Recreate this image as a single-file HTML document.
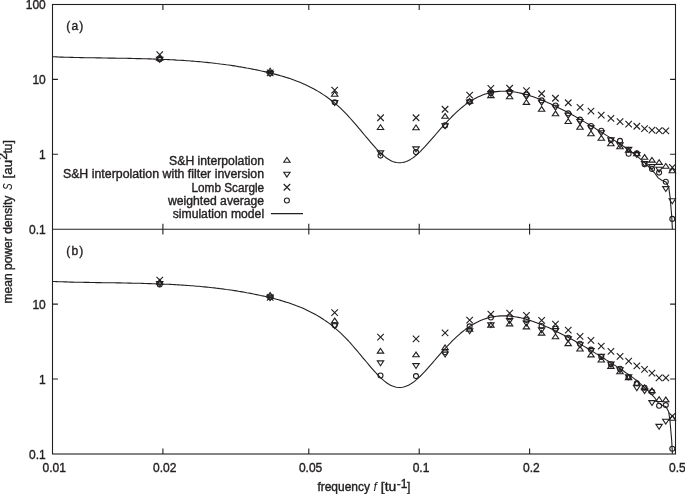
<!DOCTYPE html>
<html><head><meta charset="utf-8"><title>Mean power density</title>
<style>html,body{margin:0;padding:0;background:#fff}svg{display:block}text{font-family:"Liberation Sans","DejaVu Sans",sans-serif;font-size:12px;fill:#231f20;stroke:#231f20;stroke-width:0.38px}.it{font-style:italic;stroke-width:0.05px}</style></head><body>
<svg width="685" height="494" viewBox="0 0 685 494">
<rect width="685" height="494" fill="#fff"/>
<g fill="none" stroke="#231f20" stroke-width="1.1">
<rect x="52.5" y="4.5" width="623.0" height="449.5"/>
<path d="M52.5,229.2H675.5"/>
<path d="M162.9,4.5v5.4M162.9,223.8v10.8M162.9,454.0v-5.4M308.8,4.5v5.4M308.8,223.8v10.8M308.8,454.0v-5.4M419.2,4.5v5.4M419.2,223.8v10.8M419.2,454.0v-5.4M529.6,4.5v5.4M529.6,223.8v10.8M529.6,454.0v-5.4M52.5,79.4h5.4M675.5,79.4h-5.4M52.5,154.3h5.4M675.5,154.3h-5.4M52.5,304.1h5.4M675.5,304.1h-5.4M52.5,379.0h5.4M675.5,379.0h-5.4"/>
<path d="M52.5,56.8 L54.5,56.8 L56.5,56.9 L58.5,57.0 L60.5,57.1 L62.5,57.1 L64.5,57.2 L66.5,57.2 L68.5,57.3 L70.5,57.4 L72.5,57.4 L74.5,57.5 L76.5,57.5 L78.5,57.5 L80.5,57.6 L82.5,57.6 L84.5,57.7 L86.5,57.7 L88.5,57.7 L90.5,57.8 L92.5,57.8 L94.5,57.8 L96.5,57.9 L98.5,57.9 L100.5,57.9 L102.5,58.0 L104.5,58.0 L106.5,58.0 L108.5,58.1 L110.5,58.1 L112.5,58.1 L114.5,58.1 L116.5,58.2 L118.5,58.2 L120.5,58.2 L122.5,58.3 L124.5,58.3 L126.5,58.3 L128.5,58.4 L130.5,58.4 L132.5,58.5 L134.5,58.5 L136.5,58.6 L138.5,58.6 L140.5,58.6 L142.5,58.7 L144.5,58.8 L146.5,58.8 L148.5,58.9 L150.5,58.9 L152.5,59.0 L154.5,59.1 L156.5,59.1 L158.5,59.2 L160.5,59.3 L162.5,59.4 L164.5,59.5 L166.5,59.5 L168.5,59.6 L170.5,59.7 L172.5,59.8 L174.5,59.9 L176.5,60.1 L178.5,60.2 L180.5,60.3 L182.5,60.4 L184.5,60.5 L186.5,60.7 L188.5,60.8 L190.5,61.0 L192.5,61.1 L194.5,61.3 L196.5,61.5 L198.5,61.6 L200.5,61.8 L202.5,62.0 L204.5,62.2 L206.5,62.4 L208.5,62.6 L210.5,62.8 L212.5,63.0 L214.5,63.2 L216.5,63.5 L218.5,63.7 L220.5,64.0 L222.5,64.2 L224.5,64.5 L226.5,64.8 L228.5,65.0 L230.5,65.3 L232.5,65.6 L234.5,65.9 L236.5,66.2 L238.5,66.6 L240.5,66.9 L242.5,67.2 L244.5,67.6 L246.5,68.0 L248.5,68.3 L250.5,68.7 L252.5,69.1 L254.5,69.5 L256.5,69.9 L258.5,70.3 L260.5,70.8 L262.5,71.2 L264.5,71.6 L266.5,72.1 L268.5,72.6 L270.5,73.1 L272.5,73.6 L274.5,74.1 L276.5,74.6 L278.5,75.1 L280.5,75.7 L282.5,76.3 L284.5,76.9 L286.5,77.5 L288.5,78.1 L290.5,78.8 L292.5,79.5 L294.5,80.2 L296.5,81.0 L298.5,81.7 L300.5,82.6 L302.5,83.4 L304.5,84.3 L306.5,85.2 L308.5,86.2 L310.5,87.2 L312.5,88.2 L314.5,89.3 L316.5,90.4 L318.5,91.6 L320.5,92.8 L322.5,94.1 L324.5,95.4 L326.5,96.8 L328.5,98.2 L330.5,99.7 L332.5,101.3 L334.5,102.9 L336.5,104.6 L338.5,106.4 L340.5,108.2 L342.5,110.1 L344.5,112.1 L346.5,114.2 L348.5,116.3 L350.5,118.5 L352.5,120.8 L354.5,123.1 L356.5,125.4 L358.5,127.8 L360.5,130.2 L362.5,132.6 L364.5,135.0 L366.5,137.3 L368.5,139.7 L370.5,142.1 L372.5,144.4 L374.5,146.6 L376.5,148.8 L378.5,150.9 L380.5,152.9 L382.5,154.7 L384.5,156.4 L386.5,158.0 L388.5,159.3 L390.5,160.5 L392.5,161.4 L394.5,162.1 L396.5,162.5 L398.5,162.8 L400.5,162.8 L402.5,162.5 L404.5,162.1 L406.5,161.4 L408.5,160.5 L410.5,159.4 L412.5,158.1 L414.5,156.7 L416.5,155.0 L418.5,153.2 L420.5,151.3 L422.5,149.2 L424.5,147.1 L426.5,144.9 L428.5,142.6 L430.5,140.4 L432.5,138.1 L434.5,135.8 L436.5,133.5 L438.5,131.2 L440.5,128.9 L442.5,126.7 L444.5,124.5 L446.5,122.3 L448.5,120.1 L450.5,118.1 L452.5,116.0 L454.5,114.1 L456.5,112.2 L458.5,110.4 L460.5,108.6 L462.5,107.0 L464.5,105.4 L466.5,103.9 L468.5,102.5 L470.5,101.2 L472.5,100.0 L474.5,98.8 L476.5,97.7 L478.5,96.8 L480.5,95.9 L482.5,95.1 L484.5,94.3 L486.5,93.7 L488.5,93.1 L490.5,92.6 L492.5,92.2 L494.5,91.9 L496.5,91.6 L498.5,91.4 L500.5,91.2 L502.5,91.2 L504.5,91.2 L506.5,91.2 L508.5,91.3 L510.5,91.5 L512.5,91.7 L514.5,92.0 L516.5,92.3 L518.5,92.7 L520.5,93.1 L522.5,93.6 L524.5,94.1 L526.5,94.7 L528.5,95.3 L530.5,95.9 L532.5,96.6 L534.5,97.3 L536.5,98.0 L538.5,98.8 L540.5,99.6 L542.5,100.4 L544.5,101.2 L546.5,102.1 L548.5,102.9 L550.5,103.8 L552.5,104.8 L554.5,105.7 L556.5,106.7 L558.5,107.7 L560.5,108.7 L562.5,109.7 L564.5,110.7 L566.5,111.8 L568.5,112.8 L570.5,113.9 L572.5,115.0 L574.5,116.1 L576.5,117.3 L578.5,118.4 L580.5,119.6 L582.5,120.7 L584.5,121.9 L586.5,123.1 L588.5,124.3 L590.5,125.5 L592.5,126.7 L594.5,127.9 L596.5,129.2 L598.5,130.4 L600.5,131.6 L602.5,132.9 L604.5,134.1 L606.5,135.4 L608.5,136.6 L610.5,137.9 L612.5,139.2 L614.5,140.4 L616.5,141.7 L618.5,143.0 L620.5,144.3 L622.5,145.6 L624.5,147.0 L626.5,148.4 L628.5,149.8 L630.5,151.2 L632.5,152.7 L634.5,154.2 L636.5,155.8 L638.5,157.4 L640.5,159.1 L642.5,160.9 L644.5,162.7 L646.5,164.5 L648.5,166.5 L650.5,168.5 L652.5,170.6 L654.5,172.8 L658.2,177.9 L662.1,180.5 L666.0,182.1 L668.7,187.1 L670.0,196.3 L670.9,206.8 L671.7,216.0 L672.4,229.2" stroke-linejoin="round"/>
<path d="M52.5,281.5 L54.5,281.5 L56.5,281.6 L58.5,281.7 L60.5,281.8 L62.5,281.8 L64.5,281.9 L66.5,281.9 L68.5,282.0 L70.5,282.1 L72.5,282.1 L74.5,282.2 L76.5,282.2 L78.5,282.2 L80.5,282.3 L82.5,282.3 L84.5,282.4 L86.5,282.4 L88.5,282.4 L90.5,282.5 L92.5,282.5 L94.5,282.5 L96.5,282.6 L98.5,282.6 L100.5,282.6 L102.5,282.7 L104.5,282.7 L106.5,282.7 L108.5,282.8 L110.5,282.8 L112.5,282.8 L114.5,282.8 L116.5,282.9 L118.5,282.9 L120.5,282.9 L122.5,283.0 L124.5,283.0 L126.5,283.0 L128.5,283.1 L130.5,283.1 L132.5,283.2 L134.5,283.2 L136.5,283.3 L138.5,283.3 L140.5,283.3 L142.5,283.4 L144.5,283.5 L146.5,283.5 L148.5,283.6 L150.5,283.6 L152.5,283.7 L154.5,283.8 L156.5,283.8 L158.5,283.9 L160.5,284.0 L162.5,284.1 L164.5,284.2 L166.5,284.2 L168.5,284.3 L170.5,284.4 L172.5,284.5 L174.5,284.6 L176.5,284.8 L178.5,284.9 L180.5,285.0 L182.5,285.1 L184.5,285.2 L186.5,285.4 L188.5,285.5 L190.5,285.7 L192.5,285.8 L194.5,286.0 L196.5,286.2 L198.5,286.3 L200.5,286.5 L202.5,286.7 L204.5,286.9 L206.5,287.1 L208.5,287.3 L210.5,287.5 L212.5,287.7 L214.5,287.9 L216.5,288.2 L218.5,288.4 L220.5,288.7 L222.5,288.9 L224.5,289.2 L226.5,289.5 L228.5,289.7 L230.5,290.0 L232.5,290.3 L234.5,290.6 L236.5,290.9 L238.5,291.3 L240.5,291.6 L242.5,291.9 L244.5,292.3 L246.5,292.7 L248.5,293.0 L250.5,293.4 L252.5,293.8 L254.5,294.2 L256.5,294.6 L258.5,295.0 L260.5,295.5 L262.5,295.9 L264.5,296.3 L266.5,296.8 L268.5,297.3 L270.5,297.8 L272.5,298.3 L274.5,298.8 L276.5,299.3 L278.5,299.8 L280.5,300.4 L282.5,301.0 L284.5,301.6 L286.5,302.2 L288.5,302.8 L290.5,303.5 L292.5,304.2 L294.5,304.9 L296.5,305.7 L298.5,306.4 L300.5,307.3 L302.5,308.1 L304.5,309.0 L306.5,309.9 L308.5,310.9 L310.5,311.9 L312.5,312.9 L314.5,314.0 L316.5,315.1 L318.5,316.3 L320.5,317.5 L322.5,318.8 L324.5,320.1 L326.5,321.5 L328.5,322.9 L330.5,324.4 L332.5,326.0 L334.5,327.6 L336.5,329.3 L338.5,331.1 L340.5,332.9 L342.5,334.8 L344.5,336.8 L346.5,338.9 L348.5,341.0 L350.5,343.2 L352.5,345.5 L354.5,347.8 L356.5,350.1 L358.5,352.5 L360.5,354.9 L362.5,357.3 L364.5,359.7 L366.5,362.0 L368.5,364.4 L370.5,366.8 L372.5,369.1 L374.5,371.3 L376.5,373.5 L378.5,375.6 L380.5,377.6 L382.5,379.4 L384.5,381.1 L386.5,382.7 L388.5,384.0 L390.5,385.2 L392.5,386.1 L394.5,386.8 L396.5,387.2 L398.5,387.5 L400.5,387.5 L402.5,387.2 L404.5,386.8 L406.5,386.1 L408.5,385.2 L410.5,384.1 L412.5,382.8 L414.5,381.4 L416.5,379.7 L418.5,377.9 L420.5,376.0 L422.5,373.9 L424.5,371.8 L426.5,369.6 L428.5,367.3 L430.5,365.1 L432.5,362.8 L434.5,360.5 L436.5,358.2 L438.5,355.9 L440.5,353.6 L442.5,351.4 L444.5,349.2 L446.5,347.0 L448.5,344.8 L450.5,342.8 L452.5,340.7 L454.5,338.8 L456.5,336.9 L458.5,335.1 L460.5,333.3 L462.5,331.7 L464.5,330.1 L466.5,328.6 L468.5,327.2 L470.5,325.9 L472.5,324.7 L474.5,323.5 L476.5,322.4 L478.5,321.5 L480.5,320.6 L482.5,319.8 L484.5,319.0 L486.5,318.4 L488.5,317.8 L490.5,317.3 L492.5,316.9 L494.5,316.6 L496.5,316.3 L498.5,316.1 L500.5,315.9 L502.5,315.9 L504.5,315.9 L506.5,315.9 L508.5,316.0 L510.5,316.2 L512.5,316.4 L514.5,316.7 L516.5,317.0 L518.5,317.4 L520.5,317.8 L522.5,318.3 L524.5,318.8 L526.5,319.4 L528.5,320.0 L530.5,320.6 L532.5,321.3 L534.5,322.0 L536.5,322.7 L538.5,323.5 L540.5,324.3 L542.5,325.1 L544.5,325.9 L546.5,326.8 L548.5,327.6 L550.5,328.5 L552.5,329.5 L554.5,330.4 L556.5,331.4 L558.5,332.4 L560.5,333.4 L562.5,334.4 L564.5,335.4 L566.5,336.5 L568.5,337.5 L570.5,338.6 L572.5,339.7 L574.5,340.8 L576.5,342.0 L578.5,343.1 L580.5,344.3 L582.5,345.4 L584.5,346.6 L586.5,347.8 L588.5,349.0 L590.5,350.2 L592.5,351.4 L594.5,352.6 L596.5,353.9 L598.5,355.1 L600.5,356.3 L602.5,357.6 L604.5,358.8 L606.5,360.1 L608.5,361.3 L610.5,362.6 L612.5,363.9 L614.5,365.1 L616.5,366.4 L618.5,367.7 L620.5,369.0 L622.5,370.3 L624.5,371.7 L626.5,373.1 L628.5,374.5 L630.5,375.9 L632.5,377.4 L634.5,378.9 L636.5,380.5 L638.5,382.1 L640.5,383.8 L642.5,385.6 L644.5,387.4 L646.5,389.2 L648.5,391.2 L650.5,393.2 L652.5,395.3 L654.5,397.5 L658.2,402.6 L662.1,405.2 L666.0,406.8 L668.7,411.8 L670.0,421.0 L670.9,431.5 L671.7,440.7 L672.4,453.9" stroke-linejoin="round"/>
<path d="M159.7,55.6L156.5,60.3L162.9,60.3Z"/>
<path d="M270.1,68.2L266.9,72.9L273.3,72.9Z"/>
<path d="M334.7,91.6L331.5,96.3L337.9,96.3Z"/>
<path d="M380.5,124.8L377.3,129.5L383.7,129.5Z"/>
<path d="M416.0,125.0L412.8,129.7L419.2,129.7Z"/>
<path d="M445.1,113.6L441.9,118.3L448.3,118.3Z"/>
<path d="M469.6,98.5L466.4,103.2L472.8,103.2Z"/>
<path d="M490.9,92.9L487.7,97.6L494.1,97.6Z"/>
<path d="M509.6,94.0L506.4,98.7L512.8,98.7Z"/>
<path d="M526.4,99.7L523.2,104.4L529.6,104.4Z"/>
<path d="M541.6,106.6L538.4,111.3L544.8,111.3Z"/>
<path d="M555.5,111.1L552.3,115.8L558.7,115.8Z"/>
<path d="M568.2,118.8L565.0,123.5L571.4,123.5Z"/>
<path d="M580.0,124.6L576.8,129.3L583.2,129.3Z"/>
<path d="M591.0,131.0L587.8,135.7L594.2,135.7Z"/>
<path d="M601.3,135.5L598.1,140.2L604.5,140.2Z"/>
<path d="M610.9,141.0L607.7,145.7L614.1,145.7Z"/>
<path d="M620.0,144.0L616.8,148.7L623.2,148.7Z"/>
<path d="M628.6,147.6L625.4,152.3L631.8,152.3Z"/>
<path d="M636.8,151.1L633.6,155.8L640.0,155.8Z"/>
<path d="M644.6,154.6L641.4,159.3L647.8,159.3Z"/>
<path d="M652.0,157.4L648.8,162.1L655.2,162.1Z"/>
<path d="M659.1,159.7L655.9,164.4L662.3,164.4Z"/>
<path d="M665.8,163.5L662.6,168.2L669.0,168.2Z"/>
<path d="M672.3,168.1L669.1,172.8L675.5,172.8Z"/>
<path d="M159.7,62.3L156.5,57.4L162.9,57.4Z"/>
<path d="M270.1,76.4L266.9,71.5L273.3,71.5Z"/>
<path d="M334.7,105.5L331.5,100.6L337.9,100.6Z"/>
<path d="M380.5,155.8L377.3,150.9L383.7,150.9Z"/>
<path d="M416.0,151.8L412.8,146.9L419.2,146.9Z"/>
<path d="M445.1,128.8L441.9,123.9L448.3,123.9Z"/>
<path d="M469.6,104.9L466.4,100.0L472.8,100.0Z"/>
<path d="M490.9,96.5L487.7,91.6L494.1,91.6Z"/>
<path d="M509.6,95.5L506.4,90.6L512.8,90.6Z"/>
<path d="M526.4,99.4L523.2,94.5L529.6,94.5Z"/>
<path d="M541.6,105.2L538.4,100.3L544.8,100.3Z"/>
<path d="M555.5,110.2L552.3,105.3L558.7,105.3Z"/>
<path d="M568.2,118.2L565.0,113.3L571.4,113.3Z"/>
<path d="M580.0,124.4L576.8,119.5L583.2,119.5Z"/>
<path d="M591.0,130.8L587.8,125.9L594.2,125.9Z"/>
<path d="M601.3,135.7L598.1,130.8L604.5,130.8Z"/>
<path d="M610.9,142.7L607.7,137.8L614.1,137.8Z"/>
<path d="M620.0,147.7L616.8,142.8L623.2,142.8Z"/>
<path d="M628.6,152.3L625.4,147.4L631.8,147.4Z"/>
<path d="M636.8,157.5L633.6,152.6L640.0,152.6Z"/>
<path d="M644.6,166.5L641.4,161.6L647.8,161.6Z"/>
<path d="M652.0,169.5L648.8,164.6L655.2,164.6Z"/>
<path d="M659.1,172.2L655.9,167.3L662.3,167.3Z"/>
<path d="M665.8,191.5L662.6,186.6L669.0,186.6Z"/>
<path d="M672.3,203.7L669.1,198.8L675.5,198.8Z"/>
<path d="M156.5,51.4l6.5,6.5m-6.5,0l6.5,-6.5"/>
<path d="M266.9,69.7l6.5,6.5m-6.5,0l6.5,-6.5"/>
<path d="M331.4,86.8l6.5,6.5m-6.5,0l6.5,-6.5"/>
<path d="M377.3,114.5l6.5,6.5m-6.5,0l6.5,-6.5"/>
<path d="M412.8,114.5l6.5,6.5m-6.5,0l6.5,-6.5"/>
<path d="M441.8,106.0l6.5,6.5m-6.5,0l6.5,-6.5"/>
<path d="M466.4,91.8l6.5,6.5m-6.5,0l6.5,-6.5"/>
<path d="M487.6,85.2l6.5,6.5m-6.5,0l6.5,-6.5"/>
<path d="M506.4,85.0l6.5,6.5m-6.5,0l6.5,-6.5"/>
<path d="M523.2,87.3l6.5,6.5m-6.5,0l6.5,-6.5"/>
<path d="M538.4,90.5l6.5,6.5m-6.5,0l6.5,-6.5"/>
<path d="M552.2,95.0l6.5,6.5m-6.5,0l6.5,-6.5"/>
<path d="M565.0,99.5l6.5,6.5m-6.5,0l6.5,-6.5"/>
<path d="M576.8,104.2l6.5,6.5m-6.5,0l6.5,-6.5"/>
<path d="M587.7,107.8l6.5,6.5m-6.5,0l6.5,-6.5"/>
<path d="M598.0,111.8l6.5,6.5m-6.5,0l6.5,-6.5"/>
<path d="M607.7,115.2l6.5,6.5m-6.5,0l6.5,-6.5"/>
<path d="M616.8,118.3l6.5,6.5m-6.5,0l6.5,-6.5"/>
<path d="M625.4,120.8l6.5,6.5m-6.5,0l6.5,-6.5"/>
<path d="M633.6,123.0l6.5,6.5m-6.5,0l6.5,-6.5"/>
<path d="M641.3,125.3l6.5,6.5m-6.5,0l6.5,-6.5"/>
<path d="M648.7,126.8l6.5,6.5m-6.5,0l6.5,-6.5"/>
<path d="M655.8,127.4l6.5,6.5m-6.5,0l6.5,-6.5"/>
<path d="M662.6,127.7l6.5,6.5m-6.5,0l6.5,-6.5"/>
<path d="M669.1,164.1l6.5,6.5m-6.5,0l6.5,-6.5"/>
<circle cx="159.7" cy="59.3" r="2.5"/>
<circle cx="270.1" cy="73.1" r="2.5"/>
<circle cx="334.7" cy="102.3" r="2.5"/>
<circle cx="380.5" cy="155.6" r="2.5"/>
<circle cx="416.0" cy="152.1" r="2.5"/>
<circle cx="445.1" cy="125.4" r="2.5"/>
<circle cx="469.6" cy="101.7" r="2.5"/>
<circle cx="490.9" cy="92.8" r="2.5"/>
<circle cx="509.6" cy="92.0" r="2.5"/>
<circle cx="526.4" cy="94.6" r="2.5"/>
<circle cx="541.6" cy="100.4" r="2.5"/>
<circle cx="555.5" cy="105.5" r="2.5"/>
<circle cx="568.2" cy="113.4" r="2.5"/>
<circle cx="580.0" cy="119.6" r="2.5"/>
<circle cx="591.0" cy="126.0" r="2.5"/>
<circle cx="601.3" cy="130.8" r="2.5"/>
<circle cx="610.9" cy="140.0" r="2.5"/>
<circle cx="620.0" cy="140.9" r="2.5"/>
<circle cx="628.6" cy="153.7" r="2.5"/>
<circle cx="636.8" cy="153.4" r="2.5"/>
<circle cx="644.6" cy="164.3" r="2.5"/>
<circle cx="652.0" cy="169.0" r="2.5"/>
<circle cx="659.1" cy="172.6" r="2.5"/>
<circle cx="665.8" cy="181.8" r="2.5"/>
<circle cx="672.3" cy="218.9" r="2.5"/>
<path d="M159.7,279.6L156.5,284.3L162.9,284.3Z"/>
<path d="M270.1,292.6L266.9,297.3L273.3,297.3Z"/>
<path d="M334.7,318.1L331.5,322.8L337.9,322.8Z"/>
<path d="M380.5,348.4L377.3,353.1L383.7,353.1Z"/>
<path d="M416.0,352.1L412.8,356.8L419.2,356.8Z"/>
<path d="M445.1,344.9L441.9,349.6L448.3,349.6Z"/>
<path d="M469.6,326.4L466.4,331.1L472.8,331.1Z"/>
<path d="M490.9,322.6L487.7,327.3L494.1,327.3Z"/>
<path d="M509.6,321.2L506.4,325.9L512.8,325.9Z"/>
<path d="M526.4,324.2L523.2,328.9L529.6,328.9Z"/>
<path d="M541.6,330.4L538.4,335.1L544.8,335.1Z"/>
<path d="M555.5,334.0L552.3,338.7L558.7,338.7Z"/>
<path d="M568.2,340.9L565.0,345.6L571.4,345.6Z"/>
<path d="M580.0,346.3L576.8,351.0L583.2,351.0Z"/>
<path d="M591.0,352.2L587.8,356.9L594.2,356.9Z"/>
<path d="M601.3,357.3L598.1,362.0L604.5,362.0Z"/>
<path d="M610.9,363.7L607.7,368.4L614.1,368.4Z"/>
<path d="M620.0,369.1L616.8,373.8L623.2,373.8Z"/>
<path d="M628.6,374.9L625.4,379.6L631.8,379.6Z"/>
<path d="M636.8,380.6L633.6,385.3L640.0,385.3Z"/>
<path d="M644.6,384.9L641.4,389.6L647.8,389.6Z"/>
<path d="M652.0,387.9L648.8,392.6L655.2,392.6Z"/>
<path d="M659.1,396.8L655.9,401.5L662.3,401.5Z"/>
<path d="M665.8,397.1L662.6,401.8L669.0,401.8Z"/>
<path d="M672.3,415.6L669.1,420.3L675.5,420.3Z"/>
<path d="M159.7,286.5L156.5,281.6L162.9,281.6Z"/>
<path d="M270.1,300.6L266.9,295.7L273.3,295.7Z"/>
<path d="M334.7,328.6L331.5,323.7L337.9,323.7Z"/>
<path d="M380.5,365.8L377.3,360.9L383.7,360.9Z"/>
<path d="M416.0,368.5L412.8,363.6L419.2,363.6Z"/>
<path d="M445.1,357.0L441.9,352.1L448.3,352.1Z"/>
<path d="M469.6,333.7L466.4,328.8L472.8,328.8Z"/>
<path d="M490.9,327.6L487.7,322.7L494.1,322.7Z"/>
<path d="M509.6,323.4L506.4,318.5L512.8,318.5Z"/>
<path d="M526.4,326.0L523.2,321.1L529.6,321.1Z"/>
<path d="M541.6,332.8L538.4,327.9L544.8,327.9Z"/>
<path d="M555.5,333.5L552.3,328.6L558.7,328.6Z"/>
<path d="M568.2,341.7L565.0,336.8L571.4,336.8Z"/>
<path d="M580.0,347.7L576.8,342.8L583.2,342.8Z"/>
<path d="M591.0,353.5L587.8,348.6L594.2,348.6Z"/>
<path d="M601.3,359.2L598.1,354.3L604.5,354.3Z"/>
<path d="M610.9,366.9L607.7,362.0L614.1,362.0Z"/>
<path d="M620.0,372.7L616.8,367.8L623.2,367.8Z"/>
<path d="M628.6,379.6L625.4,374.7L631.8,374.7Z"/>
<path d="M636.8,390.7L633.6,385.8L640.0,385.8Z"/>
<path d="M644.6,393.6L641.4,388.7L647.8,388.7Z"/>
<path d="M652.0,405.5L648.8,400.6L655.2,400.6Z"/>
<path d="M659.1,429.3L655.9,424.4L662.3,424.4Z"/>
<path d="M665.8,424.1L662.6,419.2L669.0,419.2Z"/>
<path d="M156.5,276.8l6.5,6.5m-6.5,0l6.5,-6.5"/>
<path d="M266.9,294.2l6.5,6.5m-6.5,0l6.5,-6.5"/>
<path d="M331.4,309.4l6.5,6.5m-6.5,0l6.5,-6.5"/>
<path d="M377.3,333.8l6.5,6.5m-6.5,0l6.5,-6.5"/>
<path d="M412.8,335.6l6.5,6.5m-6.5,0l6.5,-6.5"/>
<path d="M441.8,329.6l6.5,6.5m-6.5,0l6.5,-6.5"/>
<path d="M466.4,316.8l6.5,6.5m-6.5,0l6.5,-6.5"/>
<path d="M487.6,310.8l6.5,6.5m-6.5,0l6.5,-6.5"/>
<path d="M506.4,309.9l6.5,6.5m-6.5,0l6.5,-6.5"/>
<path d="M523.2,312.1l6.5,6.5m-6.5,0l6.5,-6.5"/>
<path d="M538.4,317.1l6.5,6.5m-6.5,0l6.5,-6.5"/>
<path d="M552.2,320.9l6.5,6.5m-6.5,0l6.5,-6.5"/>
<path d="M565.0,326.8l6.5,6.5m-6.5,0l6.5,-6.5"/>
<path d="M576.8,333.1l6.5,6.5m-6.5,0l6.5,-6.5"/>
<path d="M587.7,337.2l6.5,6.5m-6.5,0l6.5,-6.5"/>
<path d="M598.0,342.8l6.5,6.5m-6.5,0l6.5,-6.5"/>
<path d="M607.7,348.1l6.5,6.5m-6.5,0l6.5,-6.5"/>
<path d="M616.8,353.2l6.5,6.5m-6.5,0l6.5,-6.5"/>
<path d="M625.4,357.8l6.5,6.5m-6.5,0l6.5,-6.5"/>
<path d="M633.6,362.6l6.5,6.5m-6.5,0l6.5,-6.5"/>
<path d="M641.3,366.1l6.5,6.5m-6.5,0l6.5,-6.5"/>
<path d="M648.7,369.9l6.5,6.5m-6.5,0l6.5,-6.5"/>
<path d="M655.8,374.6l6.5,6.5m-6.5,0l6.5,-6.5"/>
<path d="M662.6,374.6l6.5,6.5m-6.5,0l6.5,-6.5"/>
<path d="M669.1,412.8l6.5,6.5m-6.5,0l6.5,-6.5"/>
<circle cx="159.7" cy="284.4" r="2.5"/>
<circle cx="270.1" cy="297.3" r="2.5"/>
<circle cx="334.7" cy="325.2" r="2.5"/>
<circle cx="380.5" cy="375.5" r="2.5"/>
<circle cx="416.0" cy="376.1" r="2.5"/>
<circle cx="445.1" cy="352.2" r="2.5"/>
<circle cx="469.6" cy="326.4" r="2.5"/>
<circle cx="490.9" cy="317.5" r="2.5"/>
<circle cx="509.6" cy="317.2" r="2.5"/>
<circle cx="526.4" cy="320.0" r="2.5"/>
<circle cx="541.6" cy="326.0" r="2.5"/>
<circle cx="555.5" cy="328.7" r="2.5"/>
<circle cx="568.2" cy="337.8" r="2.5"/>
<circle cx="580.0" cy="343.8" r="2.5"/>
<circle cx="591.0" cy="349.6" r="2.5"/>
<circle cx="601.3" cy="356.9" r="2.5"/>
<circle cx="610.9" cy="364.2" r="2.5"/>
<circle cx="620.0" cy="368.8" r="2.5"/>
<circle cx="628.6" cy="377.3" r="2.5"/>
<circle cx="636.8" cy="383.2" r="2.5"/>
<circle cx="644.6" cy="387.7" r="2.5"/>
<circle cx="652.0" cy="391.9" r="2.5"/>
<circle cx="659.1" cy="405.8" r="2.5"/>
<circle cx="665.8" cy="405.1" r="2.5"/>
<circle cx="672.3" cy="448.7" r="2.5"/>
<path d="M286.9,157.5L283.8,162.2L290.1,162.2Z"/>
<path d="M286.9,177.1L283.8,172.2L290.1,172.2Z"/>
<path d="M283.7,184.0l6.5,6.5m-6.5,0l6.5,-6.5"/>
<circle cx="286.9" cy="200.5" r="2.5"/>
<path d="M270.9,213.6H303"/>
</g>
<g>
<text x="45.8" y="9.0" text-anchor="end">100</text>
<text x="45.8" y="83.9" text-anchor="end">10</text>
<text x="45.8" y="158.8" text-anchor="end">1</text>
<text x="45.8" y="233.7" text-anchor="end">0.1</text>
<text x="45.8" y="308.6" text-anchor="end">10</text>
<text x="45.8" y="383.5" text-anchor="end">1</text>
<text x="45.8" y="458.5" text-anchor="end">0.1</text>
<text x="54.3" y="471.5" text-anchor="middle">0.01</text>
<text x="164.7" y="471.5" text-anchor="middle">0.02</text>
<text x="310.6" y="471.5" text-anchor="middle">0.05</text>
<text x="421.0" y="471.5" text-anchor="middle">0.1</text>
<text x="531.4" y="471.5" text-anchor="middle">0.2</text>
<text x="677.3" y="471.5" text-anchor="middle">0.5</text>
<text x="169.1" y="165.2" text-anchor="start" textLength="95.0" lengthAdjust="spacingAndGlyphs">S&amp;H interpolation</text>
<text x="62.9" y="178.4" text-anchor="start" textLength="201.2" lengthAdjust="spacingAndGlyphs">S&amp;H interpolation with filter inversion</text>
<text x="191.5" y="191.5" text-anchor="start" textLength="72.6" lengthAdjust="spacingAndGlyphs">Lomb Scargle</text>
<text x="168.0" y="204.7" text-anchor="start" textLength="96.1" lengthAdjust="spacingAndGlyphs">weighted average</text>
<text x="172.7" y="217.9" text-anchor="start" textLength="91.4" lengthAdjust="spacingAndGlyphs">simulation model</text>
<text x="66.3" y="30.4" text-anchor="start" textLength="17.0" lengthAdjust="spacing">(a)</text>
<text x="66.3" y="255.1" text-anchor="start" textLength="17.0" lengthAdjust="spacing">(b)</text>
<text x="317.4" y="491.1" text-anchor="start" textLength="52.6" lengthAdjust="spacingAndGlyphs">frequency</text>
<text x="373.6" y="491.1" text-anchor="start" class="it">f</text>
<text x="380.8" y="491.1" text-anchor="start" textLength="15.4" lengthAdjust="spacingAndGlyphs">[tu</text>
<text x="396.8" y="487.6" text-anchor="start" font-size="9.5px">-1</text>
<text x="407.0" y="491.1" text-anchor="start">]</text>
<g transform="translate(11.6,303) rotate(-90)">
<text x="-0.6" y="0.0" text-anchor="start" textLength="108.0" lengthAdjust="spacingAndGlyphs">mean power density</text>
<text x="113.0" y="0.0" text-anchor="start" textLength="6.6" lengthAdjust="spacingAndGlyphs" class="it">S</text>
<text x="124.6" y="0.0" text-anchor="start" textLength="18.4" lengthAdjust="spacingAndGlyphs">[au</text>
<text x="143.2" y="-4.2" text-anchor="start" font-size="9.5px">2</text>
<text x="149.5" y="0.0" text-anchor="start">tu]</text>
</g>
</g>
</svg></body></html>
